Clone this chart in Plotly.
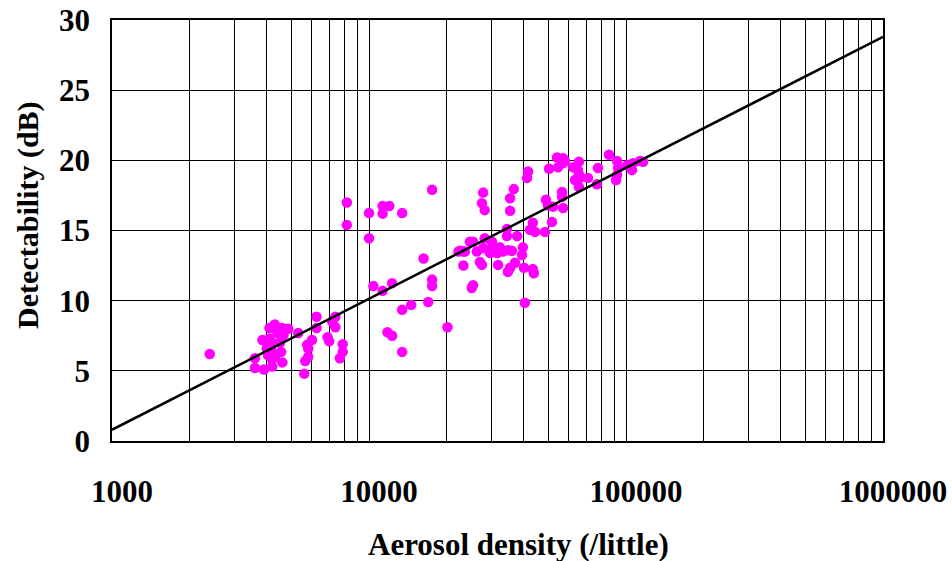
import plotly.graph_objects as go

# Aerosol density (/little) and detectability (dB)
density = [
    2400, 3600, 3600, 3900, 4200, 4200, 4100, 4300, 4600, 4850,
    4100, 4400, 4650, 4200, 4500, 4200, 4550, 4300, 4600, 5300,
    5600, 5650, 5800, 5800, 5750, 6000, 6250, 6250, 6900, 7000,
    7200, 7400, 7400, 7900, 7900, 7700, 4000, 4050, 3850,
    8200, 8200, 10000, 10000, 11300, 12000, 11300, 13460, 17600, 16300,
    10400, 11300, 12300, 17600, 17600, 17000, 14600, 13460, 11800, 12300,
    13460, 20200, 22300, 23300, 23300,
    51500, 43400, 42300, 44300, 48400, 34400, 34400, 37700, 28200, 25400,
    24700, 22600, 23600, 26300, 27800, 30100, 30400, 32300, 29600, 31500,
    34700, 36000, 39700, 39400, 33200, 27000, 27500, 31800, 37000, 35400,
    34700, 40100, 43400, 43800, 25400, 25100, 40400,
    41600, 41200, 27800, 27500, 28200, 36600, 35400, 35400, 48800, 49700,
    52000, 56400, 56400, 56900,
    53900, 56900, 57900, 50200, 54400, 62200, 65600, 65000, 65600, 63300,
    66200, 71100, 65600, 77800, 77100, 85900, 92300, 93200, 92300, 91500,
    101000, 105500, 106400, 113400, 116500, 56900,
]
detectability = [
    6.2, 5.9, 5.2, 5.1, 5.3, 5.8, 8.05, 8.3, 8.05, 8.0,
    7.3, 7.7, 7.55, 7.0, 7.0, 6.35, 6.35, 6.0, 5.6, 7.7,
    4.8, 5.7, 6.0, 6.6, 6.85, 7.2, 8.05, 8.85, 7.4, 7.1,
    8.5, 8.85, 8.1, 6.9, 6.35, 5.9, 6.6, 6.1, 7.2,
    17.0, 15.4, 16.25, 14.45, 16.75, 16.75, 16.2, 16.25, 17.9, 13.0,
    11.05, 10.7, 11.25, 11.5, 11.05, 9.9, 9.7, 9.35, 7.75, 7.5,
    6.35, 8.1, 13.5, 13.5, 12.5,
    15.6, 15.55, 15.05, 14.9, 14.9, 15.1, 14.6, 14.6, 14.45, 14.2,
    14.2, 13.55, 13.5, 13.5, 13.75, 14.2, 13.8, 13.8, 13.4, 13.4,
    13.6, 13.55, 13.8, 13.25, 13.5, 12.75, 12.55, 12.55, 12.7, 12.35,
    12.05, 12.35, 12.25, 11.95, 11.1, 10.9, 9.85,
    19.2, 18.75, 17.7, 16.95, 16.45, 17.95, 17.3, 16.4, 17.2, 16.8,
    16.7, 17.75, 17.4, 16.6,
    20.2, 20.15, 19.95, 19.4, 19.5, 19.5, 19.9, 19.3, 19.0, 18.6,
    18.75, 18.75, 18.1, 19.45, 18.3, 20.4, 19.95, 19.45, 18.95, 18.6,
    19.65, 19.3, 19.8, 19.95, 19.9, 19.8,
]

# Regression line endpoints
fit_x = [1000, 1000000]
fit_y = [0.8, 28.8]

x_ticks = [1000, 10000, 100000, 1000000]
x_tick_text = ["1000", "10000", "100000", "1000000"]
y_ticks = [0, 5, 10, 15, 20, 25, 30]

x_title = "Aerosol density (/little)"
y_title = "Detectability (dB)"

font_family = "Liberation Serif"

fig = go.Figure()
fig.add_trace(go.Scatter(
    x=density, y=detectability, mode="markers",
    marker=dict(color="#FF00FF", size=10.5, line=dict(width=0)),
    hoverinfo="skip", showlegend=False,
))
fig.add_trace(go.Scatter(
    x=fit_x, y=fit_y, mode="lines",
    line=dict(color="black", width=2.5),
    hoverinfo="skip", showlegend=False,
))

fig.update_layout(
    width=952, height=561,
    margin=dict(l=112, r=69, t=20, b=120),
    paper_bgcolor="white", plot_bgcolor="white",
    font=dict(family=font_family, color="black"),
)
fig.update_xaxes(
    type="log", range=[3, 6], automargin=False,
    tickvals=x_ticks, ticktext=x_tick_text,
    tickfont=dict(size=31, family=font_family, weight="bold"),
    ticks="", ticklabelstandoff=22, ticklabelshift=10,
    showgrid=True, gridcolor="black", gridwidth=1,
    minor=dict(dtick="D1", showgrid=True, gridcolor="black", gridwidth=1, ticks=""),
    showline=True, linecolor="black", linewidth=1.5, mirror=True,
    zeroline=False,
)
fig.update_yaxes(
    range=[0, 30], tickvals=y_ticks, automargin=False,
    tickfont=dict(size=31, family=font_family, weight="bold"),
    ticks="", ticklabelstandoff=14,
    showgrid=True, gridcolor="black", gridwidth=1,
    showline=True, linecolor="black", linewidth=1.5, mirror=True,
    zeroline=False,
)

# Axis titles placed as annotations to match the original offsets
fig.add_annotation(
    text="<b>" + x_title + "</b>", xref="paper", yref="paper",
    x=0.527, y=-0.247, xanchor="center", yanchor="middle",
    showarrow=False, font=dict(size=31, family=font_family, color="black"),
)
fig.add_annotation(
    text="<b>" + y_title + "</b>", xref="paper", yref="paper",
    x=-0.109, y=0.537, xanchor="center", yanchor="middle", textangle=-90,
    showarrow=False, font=dict(size=30, family=font_family, color="black"),
)

fig.write_html("out.html")
